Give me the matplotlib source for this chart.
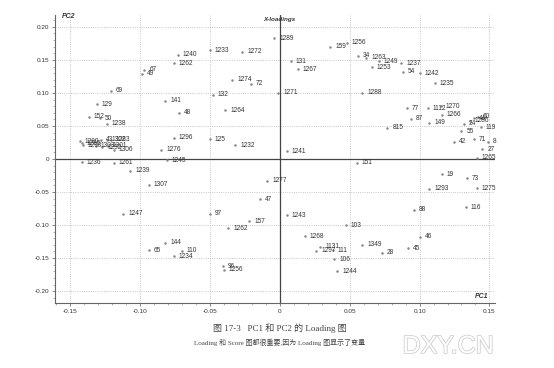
import numpy as np
import matplotlib.pyplot as plt
from matplotlib.ticker import MultipleLocator
import matplotlib.patheffects as pe

# loadings
labels = ['1240', '1262', '1233', '67', '49', '69', '129', '141', '132', '1272',
          '1289', '131', '1267', '159', '1256', '34', '1263', '1249', '1253', '1271',
          '1274', '72', '1288', '1237', '54', '1242', '1235', '77', '1112', '1270',
          '1266', '87', '149', '815', '24', '1286', '44', '60', '119', '55',
          '42', '71', '8', '27', '1265', '19', '73', '1293', '1275', '116',
          '88', '46', '45', '28', '47', '1243', '157', '1262', '103', '1268',
          '1349', '1131', '1297', '111', '106', '1244', '96', '1256', '1277', '1241',
          '1232', '125', '1264', '151', '48', '152', '50', '1238', '1296', '1276',
          '1245', '1236', '1261', '1239', '1307', '1247', '97', '144', '65', '110',
          '1234', '1280', '1285', '1290', '43', '1302', '1283', '1303', '1292', '1301',
          '1306']
pc1 = [-0.073, -0.076, -0.050, -0.097, -0.099, -0.121, -0.131, -0.082, -0.048, -0.027,
       -0.004, 0.008, 0.013, 0.036, 0.048, 0.056, 0.062, 0.071, 0.066, -0.001,
       -0.034, -0.021, 0.059, 0.087, 0.088, 0.100, 0.111, 0.091, 0.106, 0.115,
       0.116, 0.094, 0.107, 0.077, 0.132, 0.136, 0.139, 0.142, 0.144, 0.130,
       0.125, 0.139, 0.149, 0.145, 0.141, 0.116, 0.134, 0.107, 0.141, 0.133,
       0.096, 0.100, 0.092, 0.073, -0.014, 0.005, -0.022, -0.037, 0.047, 0.018,
       0.059, 0.029, 0.026, 0.038, 0.039, 0.041, -0.041, -0.040, -0.009, 0.005,
       -0.032, -0.050, -0.039, 0.055, -0.072, -0.137, -0.129, -0.124, -0.076, -0.085,
       -0.081, -0.142, -0.119, -0.107, -0.094, -0.112, -0.050, -0.082, -0.094, -0.070,
       -0.076, -0.143, -0.142, -0.141, -0.128, -0.124, -0.121, -0.132, -0.127, -0.123,
       -0.119]
pc2 = [0.158, 0.145, 0.165, 0.135, 0.129, 0.103, 0.083, 0.088, 0.097, 0.162,
       0.183, 0.148, 0.136, 0.170, 0.176, 0.156, 0.153, 0.148, 0.139, 0.100,
       0.120, 0.114, 0.100, 0.145, 0.132, 0.130, 0.115, 0.077, 0.077, 0.080,
       0.067, 0.061, 0.055, 0.047, 0.053, 0.058, 0.062, 0.064, 0.048, 0.042,
       0.026, 0.030, 0.026, 0.015, 0.002, -0.023, -0.029, -0.045, -0.044, -0.073,
       -0.077, -0.118, -0.135, -0.142, -0.061, -0.085, -0.094, -0.105, -0.100, -0.117,
       -0.130, -0.133, -0.139, -0.138, -0.152, -0.170, -0.162, -0.168, -0.033, 0.012,
       0.021, 0.030, 0.074, -0.006, 0.070, 0.064, 0.062, 0.053, 0.032, 0.014,
       -0.002, -0.005, -0.006, -0.018, -0.039, -0.083, -0.083, -0.127, -0.138, -0.139,
       -0.147, 0.027, 0.024, 0.021, 0.029, 0.029, 0.029, 0.020, 0.018, 0.020,
       0.014]

xticks = [-0.15, -0.10, -0.05, 0, 0.05, 0.10, 0.15]
xtick_labels = ['-0.15', '-0.10', '-0.05', '0', '0.05', '0.10', '0.15']
yticks = [-0.20, -0.15, -0.10, -0.05, 0, 0.05, 0.10, 0.15, 0.20]
ytick_labels = ['-0.20', '-0.15', '-0.10', '-0.05', '0', '0.05', '0.10', '0.15', '0.20']

txt = '#333333'
fig = plt.figure(figsize=(5.54, 3.68), dpi=100)
ax = fig.add_axes([55 / 554, 65 / 368, 440 / 554, 288 / 368])
ax.set_xlim(-0.161, 0.154)
ax.set_ylim(-0.218, 0.218)

ax.axhline(0, color='#444444', lw=0.9, zorder=1)
ax.axvline(0, color='#444444', lw=0.9, zorder=1)

ax.plot(pc1, pc2, ls='none', marker='.', ms=1.6, color='#888888', zorder=2)
for lab, x, y in zip(labels, pc1, pc2):
    ax.annotate(lab, (x, y), xytext=(3.5, 0), textcoords='offset points',
                ha='left', va='center', fontsize=4.7, color=txt,
                family='Liberation Sans')

ax.set_xticks(xticks, xtick_labels)
ax.set_yticks(yticks, ytick_labels)
ax.xaxis.set_minor_locator(MultipleLocator(0.01))
ax.yaxis.set_minor_locator(MultipleLocator(0.01))
ax.tick_params(labelsize=4.6, colors='#555555', labelcolor=txt, length=2, width=0.5, pad=2)
ax.tick_params(which='minor', length=1.2, width=0.4, colors='#777777')
for lab in ax.get_xticklabels() + ax.get_yticklabels():
    lab.set_family('Liberation Sans')
ax.grid(True, which='major', ls=':', lw=0.6, color='#b5b5b5')
ax.set_axisbelow(True)
for s in ['top', 'right']:
    ax.spines[s].set_visible(False)
for s in ['left', 'bottom']:
    ax.spines[s].set_color('#666666')
    ax.spines[s].set_linewidth(0.8)

ax.text(0, 0.985, 'X-loadings', transform=ax.get_xaxis_transform(), ha='center',
        va='center', fontsize=4.5, style='italic', weight='bold', color=txt,
        family='Liberation Sans')
ax.text(0.03, 0.995, 'PC2', transform=ax.transAxes, ha='center', va='center',
        fontsize=5, style='italic', weight='bold', color=txt, family='Liberation Sans')
ax.text(0.97, 0.022, 'PC1', transform=ax.transAxes, ha='center', va='center',
        fontsize=5, style='italic', weight='bold', color=txt, family='Liberation Sans')

cap_font = ['Liberation Serif', 'Noto Sans CJK SC']
fig.text(280 / 554, 1 - 328 / 368, '图 17-3   PC1 和 PC2 的 Loading 图', ha='center',
         va='center', fontsize=6.5, color='#444444', family=cap_font)
fig.text(280 / 554, 1 - 342 / 368, 'Loading 和 Score 图都很重要,因为 Loading 图显示了变量',
         ha='center', va='center', fontsize=5, color='#444444', family=cap_font)
fig.text(448 / 554, 1 - 346 / 368, 'DXY.CN', ha='center', va='center', fontsize=18,
         color='white', family='Liberation Sans',
         path_effects=[pe.withStroke(linewidth=1.2, foreground='#d0d0d0')])

fig.savefig('out.png', dpi=100)
